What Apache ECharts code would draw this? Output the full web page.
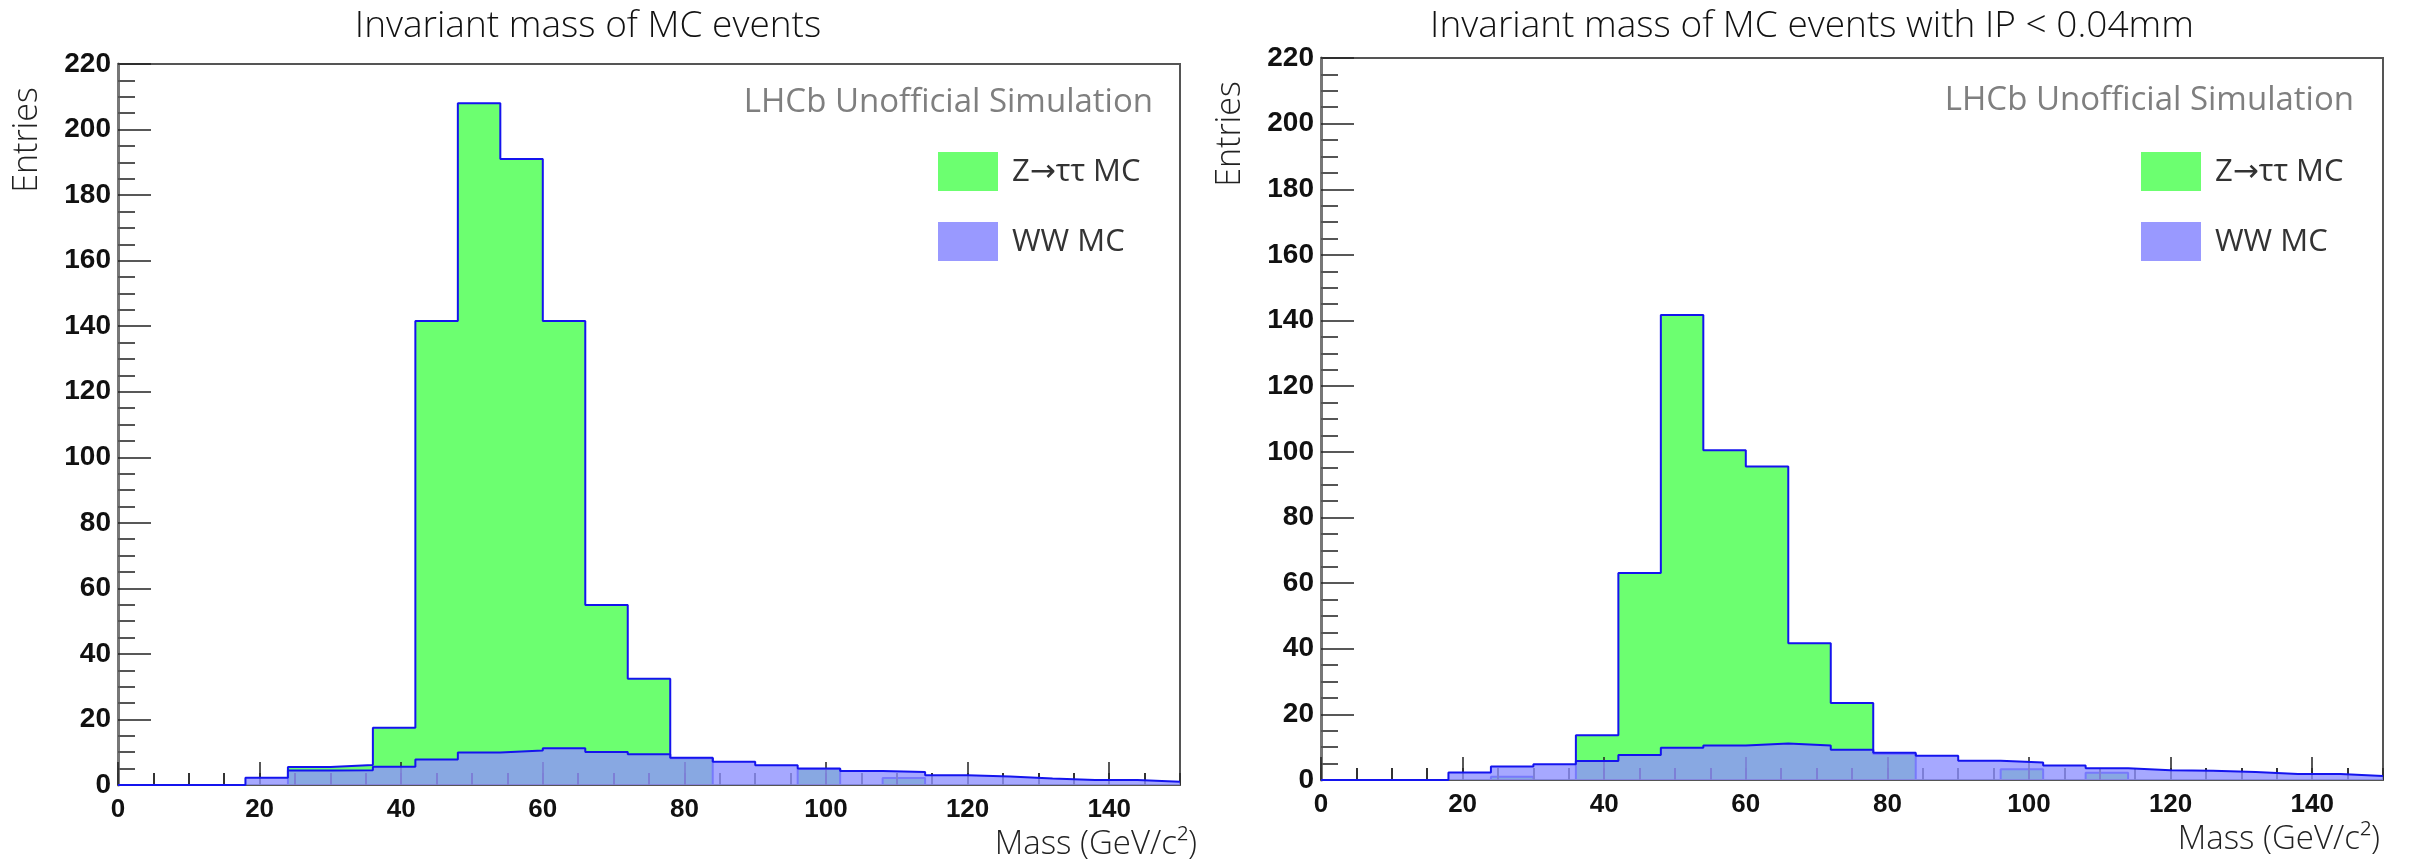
<!DOCTYPE html>
<html>
<head>
<meta charset="utf-8">
<script src="https://cdn.jsdelivr.net/npm/echarts@6/dist/echarts.min.js"></script>
<style>
html,body{margin:0;padding:0;background:#ffffff;}
#chart{width:2410px;height:865px;}
</style>
</head>
<body>
<div id="chart"></div>
<script>
// ---- data (bin edges in GeV/c^2, 6 GeV bins) ----
const binEdges = [0,6,12,18,24,30,36,42,48,54,60,66,72,78,84,90,96,102,108,114,120,126,132,138,144,150];

const titles = ['Invariant mass of MC events', 'Invariant mass of MC events with IP < 0.04mm'];
const seriesNames = ['Z\u2192\u03c4\u03c4 MC', 'WW MC'];

const zttLeft  = [0,0,0,0,5.5,6.1,17.5,141.6,208,191,141.6,54.9,32.4,8.2,0,0,4.9,0,2.1,0,0,0,0,0,0];
const wwLeft   = [0,0,0,2.2,4.4,4.5,5.6,7.8,9.9,10.5,11.2,10.1,9.4,8.3,7.1,6.0,5.0,4.3,4.0,3.0,2.6,2.0,1.5,1.5,1.0];

const zttRight = [0,0,0,0,1,0,13.6,63.1,141.7,100.5,95.5,41.7,23.5,7.9,0,0,3.3,0,2.2,0,0,0,0,0,0];
const wwRight  = [0,0,0,2.3,4.1,4.8,5.8,7.6,9.8,10.5,11.1,10.5,9.2,8.3,7.4,5.9,5.3,4.4,3.6,3.0,2.8,2.4,1.8,1.8,1.2];

const xMin = 0, xMax = 150, xMajor = 20, xMinor = 5;
const yMin = 0, yMax = 220, yMajor = 20;

// ---- styles ----
const GREEN = '#6cff70';
const WW_FILL = 'rgba(144,146,255,0.80)';
const WW_LEGEND = '#9999ff';
const OUTLINE = '#1414ee';
const LABEL_FONT = '"Liberation Sans"';
const TEXT_FONT = '"Open Sans", "DejaVu Sans"';

function stepData(vals) {
  return binEdges.map((e, i) => [e, vals[Math.min(i, vals.length - 1)]]);
}

const grids = [
  {left: 118, top: 64, width: 1062, height: 721},
  {left: 1321, top: 58, width: 1062, height: 722}
];

function gridCfg(g) {
  return Object.assign({show: true, borderColor: '#555', borderWidth: 2, backgroundColor: 'transparent', containLabel: false}, g);
}

function xMajorAxis(gi) {
  return {
    type: 'value', gridIndex: gi, min: xMin, max: xMax, interval: xMajor, position: 'bottom', z: 2,
    axisLine: {show: true, onZero: false, lineStyle: {color: '#555', width: 2}},
    axisTick: {show: true, inside: true, length: 23, lineStyle: {color: '#222', width: 1.5}},
    minorTick: {show: false},
    splitLine: {show: false},
    axisLabel: {show: true, margin: 12, fontSize: 26, fontWeight: 'bold', color: '#111', fontFamily: LABEL_FONT, showMaxLabel: false}
  };
}
function xMinorAxis(gi) {
  return {
    type: 'value', gridIndex: gi, min: xMin, max: xMax, interval: xMinor, position: 'bottom', z: 2,
    axisLine: {show: false},
    axisTick: {show: true, inside: true, length: 12, lineStyle: {color: '#333', width: 2}},
    splitLine: {show: false},
    axisLabel: {show: false}
  };
}
function yAxisCfg(gi) {
  return {
    type: 'value', gridIndex: gi, min: yMin, max: yMax, interval: yMajor, z: 2,
    axisLine: {show: true, onZero: false, lineStyle: {color: '#777', width: 3}},
    axisTick: {show: true, inside: true, length: 33, lineStyle: {color: '#222', width: 1.5}},
    minorTick: {show: true, splitNumber: 4, length: 17, lineStyle: {color: '#555', width: 2}},
    splitLine: {show: false},
    axisLabel: {show: true, margin: 7, fontSize: 28, fontWeight: 'bold', color: '#111', fontFamily: LABEL_FONT}
  };
}

function histSeries(name, vals, xi, yi, fill, z) {
  return {
    name: name, type: 'line', step: 'end', xAxisIndex: xi, yAxisIndex: yi,
    data: stepData(vals), symbol: 'none', z: z, silent: true,
    lineStyle: {color: OUTLINE, width: 2},
    itemStyle: {color: fill},
    areaStyle: {color: fill, opacity: 1, origin: 'start'},
    emphasis: {disabled: true}
  };
}

function txt(x, y, text, opts) {
  return {
    type: 'text', x: x, y: y, rotation: opts.rotation || 0, silent: true, z: 100,
    style: {
      text: text, fill: opts.color || '#222',
      font: (opts.weight || 'normal') + ' ' + opts.size + 'px ' + (opts.family || TEXT_FONT),
      align: opts.align || 'left', verticalAlign: 'middle'
    }
  };
}
function box(x, y, w, h, color) {
  return {type: 'rect', silent: true, z: 100, shape: {x: x, y: y, width: w, height: h}, style: {fill: color}};
}

const graphics = [];
// titles
graphics.push(txt(588, 26, titles[0], {size: 37, weight: 300, align: 'center', color: '#111'}));
graphics.push(txt(1812, 26, titles[1], {size: 37, weight: 300, align: 'center', color: '#111'}));
// LHCb labels
graphics.push(txt(1153, 103, 'LHCb Unofficial Simulation', {size: 33, align: 'right', color: '#7f7f7f'}));
graphics.push(txt(2354, 101, 'LHCb Unofficial Simulation', {size: 33, align: 'right', color: '#7f7f7f'}));
// legends
[[938, 1012], [2141, 2215]].forEach(function (p) {
  graphics.push(box(p[0], 152, 60, 39, GREEN));
  graphics.push(box(p[0], 222, 60, 39, WW_LEGEND));
  graphics.push(txt(p[1], 172, seriesNames[0], {size: 31, color: '#333'}));
  graphics.push(txt(p[1], 242, seriesNames[1], {size: 31, color: '#333'}));
});
// axis titles
graphics.push(txt(27, 140, 'Entries', {size: 34, weight: 300, align: 'center', rotation: Math.PI / 2, color: '#222'}));
graphics.push(txt(1230, 134, 'Entries', {size: 34, weight: 300, align: 'center', rotation: Math.PI / 2, color: '#222'}));
graphics.push(txt(1197, 845, 'Mass (GeV/c\u00b2)', {size: 33, weight: 300, align: 'right', color: '#222'}));
graphics.push(txt(2380, 840, 'Mass (GeV/c\u00b2)', {size: 33, weight: 300, align: 'right', color: '#222'}));

const option = {
  animation: false,
  backgroundColor: '#ffffff',
  grid: grids.map(gridCfg),
  xAxis: [xMajorAxis(0), xMinorAxis(0), xMajorAxis(1), xMinorAxis(1)],
  yAxis: [yAxisCfg(0), yAxisCfg(1)],
  series: [
    histSeries(seriesNames[0], zttLeft, 0, 0, GREEN, 1),
    histSeries(seriesNames[1], wwLeft, 0, 0, WW_FILL, 3),
    histSeries(seriesNames[0], zttRight, 2, 1, GREEN, 1),
    histSeries(seriesNames[1], wwRight, 2, 1, WW_FILL, 3)
  ],
  graphic: graphics
};

const chart = echarts.init(document.getElementById('chart'), null, {renderer: 'canvas'});
chart.setOption(option);
</script>
</body>
</html>
